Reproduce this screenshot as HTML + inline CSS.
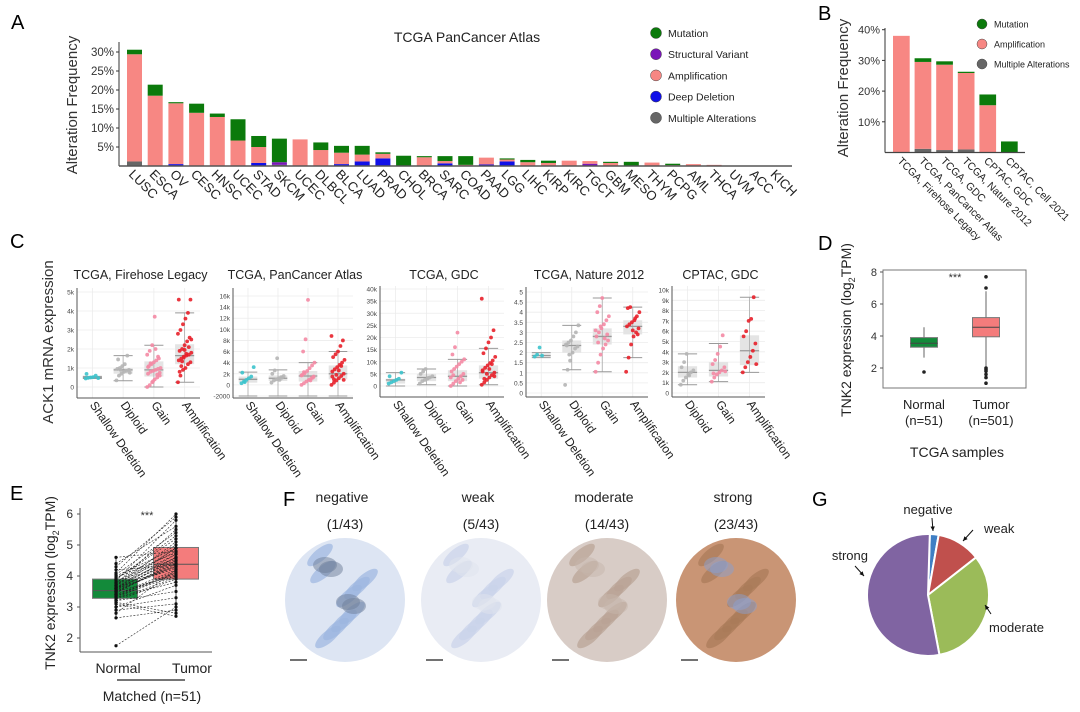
<!DOCTYPE html>
<html><head><meta charset="utf-8"><style>
body{margin:0;background:#fff}
svg{display:block;font-family:"Liberation Sans",sans-serif}
</style></head><body>
<svg id="fig" width="1080" height="712" viewBox="0 0 1080 712">
<g id="gA"></g>
<g id="gB"></g>
<g id="gC"></g>
<g id="gD"></g>
<g id="gE"></g>
<g id="gF"></g>
<g id="gG"></g>
</svg>
<script>
// ---------- Panel A data ----------
const aCats=["LUSC","ESCA","OV","CESC","HNSC","UCEC","STAD","SKCM","UCEC","DLBCL","BLCA","LUAD","PRAD","CHOL","BRCA","SARC","COAD","PAAD","LGG","LIHC","KIRP","KIRC","TGCT","GBM","MESO","THYM","PCPG","AML","THCA","UVM","ACC","KICH"];
const aMulti=[1.2,0,0,0,0,0,0,0.3,0,0,0,0,0,0,0,0,0,0,0,0,0,0,0,0,0,0,0,0,0,0,0,0];
const aDeep=[0,0,0.5,0,0,0,0.8,0,0,0,0.5,1.2,2.0,0,0,0.7,0,0.4,1.2,0,0,0,0,0,0,0,0,0,0,0,0,0];
const aSV=[0,0,0,0,0,0,0,0.7,0,0,0,0,0,0,0,0,0,0,0,0,0,0,0.6,0,0,0,0,0,0,0,0,0];
const aAmp=[28.2,18.5,16.0,14.0,12.9,6.7,4.2,0,7.0,4.2,3.0,1.8,1.2,0,2.3,0.6,0.3,1.8,0.5,1.0,0.8,1.4,0.7,0.8,0,0.9,0.2,0.5,0.3,0,0,0];
const aMut=[1.2,2.9,0.3,2.4,0.9,5.6,2.9,6.2,0,2.0,1.8,2.3,0.4,2.7,0.3,1.3,2.3,0,0.3,0.6,0.6,0,0,0.3,1.1,0,0.4,0,0,0,0,0];
const aTicks=[5,10,15,20,25,30];
// ---------- Panel B data ----------
const bCats=["TCGA, Firehose Legacy","TCGA, PanCancer Atlas","TCGA, GDC","TCGA, Nature 2012","CPTAC, GDC","CPTAC, Cell 2021"];
const bMulti=[0,1.2,0.8,1.0,0,0];
const bAmp=[38,28.3,27.8,24.9,15.4,0];
const bMut=[0,1.2,1.1,0.4,3.5,3.6];
const bTicks=[10,20,30,40];
// ---------- Panel C data ----------
const c1Cats=["Shallow Deletion","Diploid","Gain","Amplification"];
const c1Stats=[[450,460,500,540,560],[330,700,900,1000,1650],[0,550,900,1350,2200],[250,1200,1650,2250,3900]];
const c1Pts=[[450,480,500,520,600,470,690],[350,600,700,800,850,900,950,1000,1100,1200,1650,750,1450,900],[0,100,250,400,500,600,700,800,850,900,950,1000,1100,1200,1300,1400,1500,1700,1900,2200,3700,650,750,1050,1250,300,2000,1600],[250,600,900,1000,1200,1300,1400,1500,1600,1650,1700,1800,1900,2000,2200,2400,2600,2800,3000,3300,3600,3900,4600,4600,1100,1550,1750,2100,2500,800,1350,1950]];
const c2Cats=["Shallow Deletion","Diploid","Gain","Amplification"];
const c2Stats=[[-2000,400,1000,1500,2300],[-2000,700,1200,1700,2700],[-2000,600,1600,2500,4000],[-2000,1000,2000,3500,6000]];
const c2Pts=[[300,600,900,1200,1500,3200,2200,500],[400,800,1000,1200,1400,1600,2000,2600,4800,900,1300],[0,300,600,900,1200,1500,1800,2100,2500,3000,3500,4000,6000,8200,15300,800,1300,1700,2300],[0,400,800,1200,1600,2000,2400,2800,3200,3600,4000,4500,5000,5500,6000,7000,8000,8800,1000,1800,2600,3400,900,1500]];
const c3Cats=["Shallow Deletion","Diploid","Gain","Amplification"];
const c3Stats=[[0,1000,2500,3000,5500],[500,2000,3500,5000,7000],[0,2000,4000,6500,11000],[500,3000,5500,8500,15500]];
const c3Pts=[[1000,1500,2000,2500,3000,5500,4000],[1000,2000,2500,3000,3500,4000,5000,6000,7000,3300],[0,1000,2000,3000,4000,5000,6000,7000,8000,9000,10000,11000,13000,16000,22000,1500,2500,3500,4500],[500,1500,2500,3500,4500,5500,6500,7500,8500,9500,10500,12000,13500,15500,18000,20000,23000,36000,3000,5000,7000,9000,4000,6000]];
const c4Cats=["Shallow Deletion","Diploid","Gain","Amplification"];
const c4Stats=[[1.75,1.8,1.85,1.95,2.0],[1.15,2.0,2.35,2.6,3.35],[1.05,2.4,2.8,3.2,4.7],[1.75,2.9,3.3,3.6,4.25]];
const c4Pts=[[1.8,1.9,2.25,1.85],[0.4,1.15,1.6,2.0,2.2,2.3,2.4,2.5,2.6,2.8,3.0,3.35,2.35,1.9],[1.05,1.5,1.9,2.2,2.4,2.6,2.8,3.0,3.2,3.4,3.6,3.8,4.0,4.3,4.7,2.7,2.9,3.1,2.5,3.3],[1.05,1.75,2.4,2.8,3.0,3.2,3.3,3.4,3.5,3.6,3.8,4.0,4.2,4.25,3.1,3.7,2.9]];
const c5Cats=["Diploid","Gain","Amplification"];
const c5Stats=[[800,1500,2000,2600,3800],[1100,1600,2200,3000,4800],[2000,2700,4100,5600,9300]];
const c5Pts=[[800,1200,1500,1800,2000,2200,2500,3000,3800,1700],[1100,1500,1800,2000,2200,2500,2800,3200,3800,4500,5600,2100,1900],[2000,2500,3000,3500,4100,4800,5500,6000,7000,7200,9300,2800]];
// ---------- Panel D data ----------
const dGroups=["Normal","Tumor"];
const dStats=[[2.65,3.3,3.55,3.9,4.55],[2.1,3.95,4.55,5.15,6.8]];
const dOutliers=[[1.75],[7.7,7.0,2.0,1.9,1.8,1.6,1.4,1.05]];
const dTicks=[2,4,6,8];
// ---------- Panel E data ----------
const eNormal=[3.5,3.6,3.3,3.9,4.1,3.2,3.7,3.4,3.8,4.6,2.65,3.55,3.0,3.45,3.75,4.3,3.35,3.6,3.1,3.9,2.9,3.5,4.0,3.65,3.25,1.75,3.85,3.4,3.55,4.2,3.7,3.15,3.6,3.95,3.3,2.8,3.5,4.4,3.45,3.7,3.6,3.2,3.8,3.35,4.05,3.5,3.65,3.0,3.75,3.55,3.4];
const eTumor=[4.4,4.9,4.1,5.3,6.0,3.9,4.6,4.2,5.0,4.8,2.9,4.3,3.7,4.5,5.5,5.9,4.0,4.7,2.7,5.2,3.1,4.4,4.9,4.3,3.95,3.0,5.8,4.1,4.6,4.35,5.1,2.8,4.5,4.75,3.8,4.2,4.0,5.6,4.45,4.9,4.25,3.5,4.8,4.15,5.4,4.35,4.6,3.3,4.7,4.55,4.05];
const eStats=[[2.65,3.28,3.53,3.9,4.6],[2.7,3.9,4.38,4.92,6.0]];
const eTicks=[2,3,4,5,6];
// ---------- Panel F / G data ----------
const fLabels=["negative","weak","moderate","strong"];
const fCounts=[1,5,14,23];
const gTotal=43;

const NS="http://www.w3.org/2000/svg";
function mk(parent,tag,attrs,text){const e=document.createElementNS(NS,tag);for(const k in attrs)e.setAttribute(k,attrs[k]);if(text!==undefined)e.textContent=text;parent.appendChild(e);return e;}
const gA=document.getElementById('gA'),gB=document.getElementById('gB'),gC=document.getElementById('gC'),gD=document.getElementById('gD'),gE=document.getElementById('gE'),gF=document.getElementById('gF'),gG=document.getElementById('gG');

function letter(g,ch,x,y){const t=mk(g,'text',{x:x,y:y,'font-size':20},ch);

}
const COL={mut:'#0b7a0b',sv:'#7a16b8',amp:'#f78783',deep:'#1010e8',multi:'#666666'};

// ===== Panel A =====
letter(gA,'A',11,29);
{
 const x0=119,yBase=166,pp=3.8,step=20.7,bw=15;
 const ya=v=>yBase-v*pp;
 const xa=i=>127+i*step;
 let t=mk(gA,'text',{x:467,y:42,'font-size':14,'text-anchor':'middle',fill:'#222'},'TCGA PanCancer Atlas');
 
 t=mk(gA,'text',{transform:'translate(77,105) rotate(-90)','font-size':15,'text-anchor':'middle',fill:'#333'},'Alteration Frequency');
 
 aTicks.forEach(v=>{const tt=mk(gA,'text',{x:x0-5,y:ya(v)+4,'font-size':11.5,'text-anchor':'end',fill:'#333'},v+'%');
  
  mk(gA,'line',{x1:x0-3,x2:x0,y1:ya(v),y2:ya(v),stroke:'#333'});});
 aCats.forEach((c,i)=>{
  let y=yBase;const segs=[[aMulti[i],COL.multi],[aDeep[i],COL.deep],[aSV[i],COL.sv],[aAmp[i],COL.amp],[aMut[i],COL.mut]];
  segs.forEach(s=>{if(s[0]>0){const h=s[0]*pp;const r=mk(gA,'rect',{x:xa(i),y:y-h,width:bw,height:h,fill:s[1]});
   y-=h;}});
  const tl=mk(gA,'text',{transform:`translate(${xa(i)+1},${yBase+9}) rotate(45)`,'font-size':13,fill:'#222'},c);
  
 });
 mk(gA,'line',{x1:x0,x2:x0,y1:42,y2:yBase,stroke:'#333'});
 mk(gA,'line',{x1:x0,x2:792,y1:yBase,y2:yBase,stroke:'#555','stroke-width':1.5});
 const leg=[['Mutation',COL.mut],['Structural Variant',COL.sv],['Amplification',COL.amp],['Deep Deletion',COL.deep],['Multiple Alterations',COL.multi]];
 leg.forEach((l,i)=>{const y=33+i*21.2;mk(gA,'circle',{cx:656,cy:y,r:5.5,fill:l[1],stroke:'#444','stroke-width':0.5});
  const tt=mk(gA,'text',{x:668,y:y+4,'font-size':10.5,fill:'#222'},l[0]);
  });
}
// ===== Panel B =====
letter(gB,'B',818,20);
{
 const x0=885,yBase=152.5,pp=3.07,step=21.6,bw=16.7;
 const yb=v=>yBase-v*pp;const xb=i=>893+i*step;
 const t=mk(gB,'text',{transform:'translate(848,88) rotate(-90)','font-size':15,'text-anchor':'middle',fill:'#333'},'Alteration Frequency');
 
 bTicks.forEach(v=>{const tt=mk(gB,'text',{x:x0-5,y:yb(v)+4,'font-size':11,'text-anchor':'end',fill:'#333'},v+'%');
  
  mk(gB,'line',{x1:x0-3,x2:x0,y1:yb(v),y2:yb(v),stroke:'#333'});});
 bCats.forEach((c,i)=>{let y=yBase;[[bMulti[i],COL.multi],[bAmp[i],COL.amp],[bMut[i],COL.mut]].forEach(s=>{if(s[0]>0){const h=s[0]*pp;
   const r=mk(gB,'rect',{x:xb(i),y:y-h,width:bw,height:h,fill:s[1]});y-=h;}});
  const tl=mk(gB,'text',{transform:`translate(${xb(i)+4},${yBase+9}) rotate(45)`,'font-size':10.5,fill:'#222'},c);
  });
 mk(gB,'line',{x1:x0,x2:x0,y1:28,y2:yBase,stroke:'#333'});
 mk(gB,'line',{x1:x0,x2:1025,y1:yBase,y2:yBase,stroke:'#444','stroke-width':1.3});
 [['Mutation',COL.mut],['Amplification',COL.amp],['Multiple Alterations',COL.multi]].forEach((l,i)=>{const y=24+i*20;
  mk(gB,'circle',{cx:982,cy:y,r:5,fill:l[1],stroke:'#444','stroke-width':0.5});
  const tt=mk(gB,'text',{x:994,y:y+3.5,'font-size':9,fill:'#222'},l[0]);});
}
// ===== Panel C =====
letter(gC,'C',10,248);
{
 const t=mk(gC,'text',{transform:'translate(53,342) rotate(-90)','font-size':15,'text-anchor':'middle',fill:'#333'},'ACK1 mRNA expression');
 
 const catCol={"Shallow Deletion":'#3cc3cc',"Diploid":'#b5b5b5',"Gain":'#f48aa4',"Amplification":'#e8202a'};
 const fmt=v=>v===0?'0':(v>=1000?(v/1000)+'k':String(v));
 const panels=[
  {title:"TCGA, Firehose Legacy",cats:c1Cats,stats:c1Stats,pts:c1Pts,x0:77,x1:200,v1:5000,p1:292,v0:0,p0:387,ticks:[0,1000,2000,3000,4000,5000],bot:398,top:288},
  {title:"TCGA, PanCancer Atlas",cats:c2Cats,stats:c2Stats,pts:c2Pts,x0:233,x1:353,v1:16000,p1:296,v0:-2000,p0:396,ticks:[-2000,0,2000,4000,6000,8000,10000,12000,14000,16000],bot:398,top:288},
  {title:"TCGA, GDC",cats:c3Cats,stats:c3Stats,pts:c3Pts,x0:380,x1:504,v1:40000,p1:289,v0:0,p0:386,ticks:[0,5000,10000,15000,20000,25000,30000,35000,40000],bot:397,top:286},
  {title:"TCGA, Nature 2012",cats:c4Cats,stats:c4Stats,pts:c4Pts,x0:526,x1:648,v1:5,p1:292,v0:0,p0:393,ticks:[0,0.5,1,1.5,2,2.5,3,3.5,4,4.5,5],bot:397,top:287,raw:true},
  {title:"CPTAC, GDC",cats:c5Cats,stats:c5Stats,pts:c5Pts,x0:672,x1:765,v1:10000,p1:290,v0:0,p0:393,ticks:[0,1000,2000,3000,4000,5000,6000,7000,8000,9000,10000],bot:397,top:286}
 ];
 panels.forEach((P,pi)=>{
  const g=mk(gC,'g',{});
  const ys=v=>P.p0+(v-P.v0)*(P.p1-P.p0)/(P.v1-P.v0);
  const n=P.cats.length,cw=(P.x1-P.x0)/n;const xs=i=>P.x0+cw*(i+0.5);
  const tt=mk(g,'text',{x:(P.x0+P.x1)/2+2,y:279,'font-size':12.5,'text-anchor':'middle',fill:'#222'},P.title);
  
  P.ticks.forEach(v=>{mk(g,'line',{x1:P.x0,x2:P.x1,y1:ys(v),y2:ys(v),stroke:'#ececec','stroke-width':0.8});
   const l=mk(g,'text',{x:P.x0-3,y:ys(v)+2.5,'font-size':6.5,'text-anchor':'end',fill:'#444'},P.raw?String(v):fmt(v));
   });
  P.cats.forEach((c,i)=>{mk(g,'line',{x1:xs(i),x2:xs(i),y1:P.top,y2:P.bot,stroke:'#ececec','stroke-width':0.8});});
  P.cats.forEach((c,i)=>{const s=P.stats[i],x=xs(i),bw=cw*0.62;
   mk(g,'rect',{x:x-bw/2,y:ys(s[3]),width:bw,height:Math.max(1,ys(s[1])-ys(s[3])),fill:'#e4e4e4'});
   mk(g,'line',{x1:x,x2:x,y1:ys(s[4]),y2:ys(s[0]),stroke:'#aaa','stroke-width':0.8});
   [s[0],s[4]].forEach(v=>mk(g,'line',{x1:x-bw/2,x2:x+bw/2,y1:ys(v),y2:ys(v),stroke:'#999','stroke-width':1}));
   mk(g,'line',{x1:x-bw/2,x2:x+bw/2,y1:ys(s[2]),y2:ys(s[2]),stroke:'#999','stroke-width':1.3});
   P.pts[i].forEach((v,k)=>{const jx=(((k*37)%17)-8)/8*bw*0.35;
    const d=mk(g,'circle',{cx:x+jx,cy:ys(v),r:1.9,fill:catCol[c],opacity:0.9});
    });
   const lab=mk(g,'text',{transform:`translate(${x-3},${P.bot+7}) rotate(55)`,'font-size':12,fill:'#222'},c);
   
  });
  mk(g,'line',{x1:P.x0,x2:P.x0,y1:P.top,y2:P.bot,stroke:'#555'});
  mk(g,'line',{x1:P.x0,x2:P.x1,y1:P.bot,y2:P.bot,stroke:'#555'});
 });
}
// ===== Panel D =====
letter(gD,'D',818,250);
{
 const yd=v=>272+(8-v)*16;const xd=[924,986];const bw=27;
 mk(gD,'rect',{x:883,y:270,width:143,height:118,fill:'none',stroke:'#777'});
 dTicks.forEach(v=>{mk(gD,'line',{x1:880,x2:883,y1:yd(v),y2:yd(v),stroke:'#555'});
  const l=mk(gD,'text',{x:877,y:yd(v)+4,'font-size':11,'text-anchor':'end',fill:'#333'},v);
  });
 const fills=['#138a3a','#f47c7c'];
 dStats.forEach((s,i)=>{const x=xd[i];
  mk(gD,'line',{x1:x,x2:x,y1:yd(s[4]),y2:yd(s[0]),stroke:'#666'});
  const b=mk(gD,'rect',{x:x-bw/2,y:yd(s[3]),width:bw,height:yd(s[1])-yd(s[3]),fill:fills[i],stroke:'#777'});
  
  mk(gD,'line',{x1:x-bw/2,x2:x+bw/2,y1:yd(s[2]),y2:yd(s[2]),stroke:'#444'});
  dOutliers[i].forEach(v=>{const o=mk(gD,'circle',{cx:x,cy:yd(v),r:1.8,fill:'#222'});});
 });
 mk(gD,'text',{x:955,y:281,'font-size':11,'text-anchor':'middle',fill:'#333'},'***');
 [['Normal','(n=51)',924],['Tumor','(n=501)',991]].forEach(a=>{
  const l=mk(gD,'text',{x:a[2],y:409,'font-size':13,'text-anchor':'middle',fill:'#222'},a[0]);
  mk(gD,'text',{x:a[2],y:425,'font-size':13,'text-anchor':'middle',fill:'#222'},a[1]);});
 let l=mk(gD,'text',{x:957,y:457,'font-size':14,'text-anchor':'middle',fill:'#222'},'TCGA samples');
 l=mk(gD,'text',{transform:'translate(851,330) rotate(-90)','font-size':14,'text-anchor':'middle',fill:'#222'});
 l.innerHTML='TNK2 expression (log<tspan font-size="9" dy="4">2</tspan><tspan dy="-4">TPM)</tspan>';
 
}
// ===== Panel E =====
letter(gE,'E',10,500);
{
 const ye=v=>514+(6-v)*31;const xe=[116,176];const bw=45;
 const fills=['#138a3a','#f47c7c'];
 eStats.forEach((s,i)=>{const b=mk(gE,'rect',{x:xe[i]-bw/2+(i?0:-1),y:ye(s[3]),width:bw,height:ye(s[1])-ye(s[3]),fill:fills[i],stroke:'#777'});
  
  mk(gE,'line',{x1:xe[i]-bw/2,x2:xe[i]+bw/2,y1:ye(s[2]),y2:ye(s[2]),stroke:'#555'});
  mk(gE,'line',{x1:xe[i],x2:xe[i],y1:ye(s[4]),y2:ye(s[0]),stroke:'#444'});});
 eNormal.forEach((v,k)=>{const ln=mk(gE,'line',{x1:xe[0],y1:ye(v),x2:xe[1],y2:ye(eTumor[k]),stroke:'#222','stroke-width':0.6,'stroke-dasharray':'2,1.5'});
  
  mk(gE,'circle',{cx:xe[0],cy:ye(v),r:1.6,fill:'#111'});mk(gE,'circle',{cx:xe[1],cy:ye(eTumor[k]),r:1.6,fill:'#111'});});
 mk(gE,'line',{x1:80,x2:80,y1:508,y2:652,stroke:'#555'});
 mk(gE,'line',{x1:80,x2:212,y1:652,y2:652,stroke:'#555'});
 eTicks.forEach(v=>{mk(gE,'line',{x1:77,x2:80,y1:ye(v),y2:ye(v),stroke:'#555'});
  const l=mk(gE,'text',{x:73,y:ye(v)+4,'font-size':12,'text-anchor':'end',fill:'#333'},v);});
 mk(gE,'text',{x:147,y:519,'font-size':11,'text-anchor':'middle',fill:'#333'},'***');
 let l=mk(gE,'text',{x:118,y:673,'font-size':14,'text-anchor':'middle',fill:'#222'},'Normal');
 l=mk(gE,'text',{x:192,y:673,'font-size':14,'text-anchor':'middle',fill:'#222'},'Tumor');
 mk(gE,'line',{x1:117,x2:185,y1:680,y2:680,stroke:'#222','stroke-width':1.3});
 l=mk(gE,'text',{x:152,y:701,'font-size':14,'text-anchor':'middle',fill:'#222'},'Matched (n=51)');
 l=mk(gE,'text',{transform:'translate(55,583) rotate(-90)','font-size':14,'text-anchor':'middle',fill:'#222'});
 l.innerHTML='TNK2 expression (log<tspan font-size="9" dy="4">2</tspan><tspan dy="-4">TPM)</tspan>';
 
}
// ===== Panel F =====
letter(gF,'F',283,506);
{
 const cx=[345,481,607,736];
 const base=['#dde5f3','#e9ecf4','#d8ccc6','#c99575'];
 const patch=['#9db6e0','#c9d3ea','#b9a394','#a97a58'];
 const patch2=['#6d7d98','#dfe3ee','#c5b6ab','#8aa0d0'];
 fLabels.forEach((lab,i)=>{
  const l=mk(gF,'text',{x:cx[i]-3,y:502,'font-size':14,'text-anchor':'middle',fill:'#222'},lab);
  mk(gF,'text',{x:cx[i],y:529,'font-size':14,'text-anchor':'middle',fill:'#222'},'('+fCounts[i]+'/'+gTotal+')');
  const g=mk(gF,'g',{});
  const cid='clip'+i;const cp=mk(g,'clipPath',{id:cid});mk(cp,'ellipse',{cx:cx[i],cy:600,rx:60,ry:62});
  mk(g,'ellipse',{cx:cx[i],cy:600,rx:60,ry:62,fill:base[i]});
  const gg=mk(g,'g',{'clip-path':`url(#${cid})`});
  for(let k=0;k<9;k++){const ox=((k*29)%50)-25,oy=((k*41)%90)-45;
   mk(gg,'ellipse',{cx:cx[i]+ox,cy:600+oy,rx:16,ry:6,fill:patch[i],opacity:0.7,transform:`rotate(-40 ${cx[i]+ox} ${600+oy})`});}
  for(let k=0;k<4;k++){const ox=((k*23)%40)-20,oy=((k*37)%70)-35;
   mk(gg,'ellipse',{cx:cx[i]+ox,cy:600+oy,rx:12,ry:8,fill:patch2[i],opacity:0.5});}
  mk(gF,'line',{x1:cx[i]-55,x2:cx[i]-38,y1:660,y2:660,stroke:'#444','stroke-width':1.5});
 });
}
// ===== Panel G =====
letter(gG,'G',812,506);
{
 const cx=928,cy=595,r=61;const cols=['#3f7fc4','#c0504d','#9bbb59','#8064a2'];
 let a0=0.03;
 fCounts.forEach((c,i)=>{const a1=a0+c/gTotal*2*Math.PI;
  const p=(a)=>[cx+r*Math.sin(a),cy-r*Math.cos(a)];const s=p(a0),e=p(a1);
  const large=(a1-a0)>Math.PI?1:0;
  const sl=mk(gG,'path',{d:`M${cx},${cy} L${s[0]},${s[1]} A${r},${r} 0 ${large} 1 ${e[0]},${e[1]} Z`,fill:cols[i],stroke:'#fff','stroke-width':2});
  
  a0=a1;});
 const labs=[['negative',928,514,'middle'],['weak',984,533,'start'],['moderate',989,632,'start'],['strong',868,560,'end']];
 labs.forEach(l=>{const t=mk(gG,'text',{x:l[1],y:l[2],'font-size':13,'text-anchor':l[3],fill:'#222'},l[0]);
  });
 const arrows=[[932,518,933,531],[973,530,963,541],[991,614,985,605],[855,566,864,576]];
 arrows.forEach(a=>{mk(gG,'line',{x1:a[0],y1:a[1],x2:a[2],y2:a[3],stroke:'#111','stroke-width':1});
  const ang=Math.atan2(a[3]-a[1],a[2]-a[0]);const L=5;
  const p1=[a[2]-L*Math.cos(ang-0.45),a[3]-L*Math.sin(ang-0.45)],p2=[a[2]-L*Math.cos(ang+0.45),a[3]-L*Math.sin(ang+0.45)];
  mk(gG,'polygon',{points:`${a[2]},${a[3]} ${p1[0]},${p1[1]} ${p2[0]},${p2[1]}`,fill:'#111'});});
}
</script>
</body></html>
